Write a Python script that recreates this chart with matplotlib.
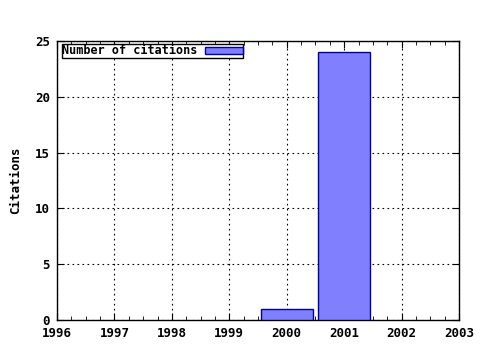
import matplotlib
matplotlib.use("Agg")
import matplotlib.pyplot as plt
import matplotlib.patches as mpatches
from matplotlib.ticker import MultipleLocator

years = [2000, 2001]
citations = [1, 24]
xticks = [1996, 1997, 1998, 1999, 2000, 2001, 2002, 2003]
yticks = [0, 5, 10, 15, 20, 25]

font = {"family": "DejaVu Sans Mono", "weight": "bold", "size": 9}

fig = plt.figure(figsize=(4.8, 3.5), dpi=100)
ax = fig.add_axes([57 / 480, 1 - 320 / 350, 402 / 480, 279 / 350])

ax.bar(years, citations, width=0.9, color="#8080ff", edgecolor="#0000a0",
       linewidth=1, zorder=3)

ax.set_xlim(1996, 2003)
ax.set_ylim(0, 25)
ax.set_xticks(xticks)
ax.set_yticks(yticks)
ax.xaxis.set_minor_locator(MultipleLocator(0.25))
ax.set_xticklabels([str(t) for t in xticks], fontdict=font)
ax.set_yticklabels([str(t) for t in yticks], fontdict=font)
ax.tick_params(axis="both", which="both", direction="in", top=True, right=True,
               color="black", pad=5)
ax.tick_params(axis="both", which="major", length=5)
ax.tick_params(axis="both", which="minor", length=3)
ax.grid(True, which="major", color="black", linestyle=(0, (1.5, 3)), linewidth=0.8)
for s in ax.spines.values():
    s.set_linewidth(1)
ax.set_ylabel("Citations", fontdict=font, labelpad=9)

handle = mpatches.Patch(facecolor="#8080ff", edgecolor="#0000a0", label="Number of citations")
leg = ax.legend(handles=[handle], loc="upper left", bbox_to_anchor=(0.012, 0.99),
                prop={"family": "DejaVu Sans Mono", "weight": "bold", "size": 8.5},
                frameon=True, fancybox=False, markerfirst=False, borderpad=0.05,
                handlelength=3.2, handleheight=0.5, handletextpad=0.6,
                borderaxespad=0)
leg.get_frame().set_edgecolor("black")
leg.get_frame().set_linewidth(1)
leg.get_frame().set_alpha(1)

fig.savefig("out.png", dpi=100)
